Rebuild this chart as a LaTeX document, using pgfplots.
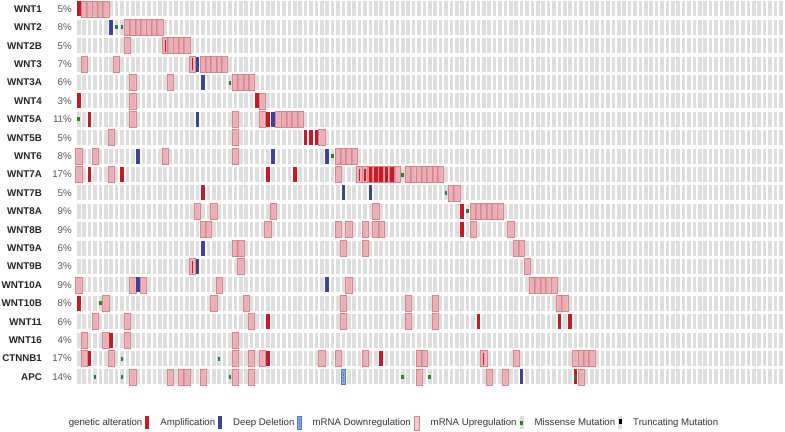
\documentclass[border=0pt]{standalone}
\usepackage{pgfplots}
\pgfplotsset{compat=1.18}
\usepackage{fontspec}
\setmainfont{Liberation Sans}

\definecolor{cellgray}{RGB}{222,222,222}
\definecolor{ampred}{RGB}{200,26,38}
\definecolor{delblue}{RGB}{58,68,152}
\definecolor{uppink}{RGB}{232,158,166}
\definecolor{upedge}{RGB}{222,130,142}
\definecolor{downfill}{RGB}{140,176,222}
\definecolor{downedge}{RGB}{80,120,190}
\definecolor{misgreen}{RGB}{46,125,50}
\definecolor{genetext}{RGB}{35,35,35}
\definecolor{pcttext}{RGB}{85,85,85}
\definecolor{legtext}{RGB}{50,50,50}

% cell glyphs (sizes in bp, picture is 785x432 bp)
\pgfdeclareplotmark{cell}{\pgfpathrectangle{\pgfpoint{-1.75bp}{-7.5bp}}{\pgfpoint{3.5bp}{15bp}}\pgfusepath{fill}}
\pgfdeclareplotmark{thin}{\pgfpathrectangle{\pgfpoint{-0.6bp}{-6bp}}{\pgfpoint{1.2bp}{12bp}}\pgfusepath{fill}}
\pgfdeclareplotmark{up}{\pgfpathrectangle{\pgfpoint{-3.1bp}{-8bp}}{\pgfpoint{6.2bp}{16bp}}\pgfusepath{fill,stroke}}
\pgfdeclareplotmark{mis}{\pgfpathrectangle{\pgfpoint{-1.3bp}{-2bp}}{\pgfpoint{2.6bp}{4bp}}\pgfusepath{fill}}
\pgfdeclareplotmark{down}{%
  \pgfpathrectangle{\pgfpoint{-1.9bp}{-7.5bp}}{\pgfpoint{3.8bp}{15bp}}\pgfusepath{fill,stroke}%
  \pgfsetdash{{1.5bp}{1.5bp}}{0bp}%
  \pgfpathmoveto{\pgfpoint{0bp}{-5bp}}\pgfpathlineto{\pgfpoint{0bp}{5bp}}\pgfusepath{stroke}}
% legend glyphs
\pgfdeclareplotmark{legbar}{\pgfpathrectangle{\pgfpoint{-2bp}{-6.5bp}}{\pgfpoint{4bp}{13bp}}\pgfusepath{fill}}
\pgfdeclareplotmark{legup}{\pgfpathrectangle{\pgfpoint{-2.5bp}{-7bp}}{\pgfpoint{5bp}{14bp}}\pgfusepath{fill,stroke}}
\pgfdeclareplotmark{legdown}{%
  \pgfpathrectangle{\pgfpoint{-1.8bp}{-6.5bp}}{\pgfpoint{3.6bp}{13bp}}\pgfusepath{fill,stroke}%
  \pgfsetdash{{1.5bp}{1.5bp}}{0bp}%
  \pgfpathmoveto{\pgfpoint{0bp}{-4bp}}\pgfpathlineto{\pgfpoint{0bp}{4bp}}\pgfusepath{stroke}}
\pgfdeclareplotmark{legmis}{%
  \pgfsetfillcolor{cellgray}\pgfpathrectangle{\pgfpoint{-2bp}{-6.5bp}}{\pgfpoint{4bp}{13bp}}\pgfusepath{fill}%
  \pgfsetfillcolor{misgreen}\pgfpathrectangle{\pgfpoint{-1.3bp}{-2bp}}{\pgfpoint{2.6bp}{4bp}}\pgfusepath{fill}}
\pgfdeclareplotmark{legtrunc}{%
  \pgfsetfillcolor{cellgray}\pgfpathrectangle{\pgfpoint{-2bp}{-6.5bp}}{\pgfpoint{4bp}{13bp}}\pgfusepath{fill}%
  \pgfsetfillcolor{black}\pgfpathrectangle{\pgfpoint{-1.3bp}{-1bp}}{\pgfpoint{2.6bp}{5bp}}\pgfusepath{fill}}

\newcommand{\lab}[2]{\makebox[42bp][r]{\bfseries\color{genetext}#1}\makebox[30bp][r]{\color{pcttext}#2\%}}

\begin{document}
\begin{tikzpicture}
\begin{axis}[
  at={(76.05bp,45.8bp)}, anchor=south west,
  x=5.4bp, y=18.4bp, y dir=reverse,
  xmin=-0.5, xmax=130.5, ymin=-0.5, ymax=20.5,
  set layers, clip=false,
  axis line style={draw=none}, tick style={draw=none}, major tick length=0pt,
  xtick={-0.5,0.5,...,130.5}, xticklabel={\mbox{}},
  xmajorgrids, major grid style={white, line width=1.9bp},
  ytick={0,...,20},
  yticklabels={\lab{WNT1}{5},\lab{WNT2}{8},\lab{WNT2B}{5},\lab{WNT3}{7},
    \lab{WNT3A}{6},\lab{WNT4}{3},\lab{WNT5A}{11},\lab{WNT5B}{5},\lab{WNT6}{8},
    \lab{WNT7A}{17},\lab{WNT7B}{5},\lab{WNT8A}{9},\lab{WNT8B}{9},\lab{WNT9A}{6},
    \lab{WNT9B}{3},\lab{WNT10A}{9},\lab{WNT10B}{8},\lab{WNT11}{6},\lab{WNT16}{4},
    \lab{CTNNB1}{17},\lab{APC}{14}},
  yticklabel style={anchor=east, inner sep=0pt, xshift=-4bp,
    font=\fontsize{9.8}{11}\selectfont},
  legend columns=-1,
  legend cell align=left,
  legend image code/.code={\draw[#1] plot[only marks] coordinates {(0bp,0bp)};},
  legend style={at={(-0.0261,-0.0952)}, anchor=west, draw=none, fill=none,
    inner sep=0pt, nodes={inner sep=0pt}, text=legtext,
    font=\fontsize{9.7}{11}\selectfont,
    /tikz/every odd column/.append style={column sep=11bp},
    /tikz/every even column/.append style={column sep=3bp}},
]
% gray sample cells, one strip per gene
\pgfplotsinvokeforeach{0,...,20}{
  \addplot[on layer=axis background, forget plot, draw=cellgray, line width=15bp]
    coordinates {(-0.5,#1) (130.5,#1)};
}
% mRNA upregulation
\addplot[only marks, forget plot, mark=up,
  mark options={fill=uppink, fill opacity=0.7, draw=upedge, line width=0.6bp}]
  coordinates {
  (1,0)(2,0)(3,0)(4,0)(5,0)
  (9,1)(10,1)(11,1)(12,1)(13,1)(14,1)(15,1)
  (9,2)(16,2)(17,2)(18,2)(19,2)(20,2)
  (1,3)(7,3)(21,3)(23,3)(24,3)(25,3)(26,3)(27,3)
  (10,4)(17,4)(29,4)(30,4)(31,4)(32,4)
  (10,5)(34,5)
  (10,6)(29,6)(34,6)(37,6)(38,6)(39,6)(40,6)(41,6)
  (6,7)(29,7)(45,7)
  (0,8)(3,8)(16,8)(29,8)(48,8)(49,8)(50,8)(51,8)
  (0,9)(6,9)(48,9)(52,9)(53,9)(54,9)(55,9)(56,9)(57,9)(58,9)(59,9)
  (61,9)(62,9)(63,9)(64,9)(65,9)(66,9)(67,9)
  (69,10)(70,10)
  (22,11)(25,11)(36,11)(55,11)(73,11)(74,11)(75,11)(76,11)(77,11)(78,11)
  (23,12)(24,12)(35,12)(48,12)(50,12)(53,12)(55,12)(56,12)(73,12)(80,12)
  (29,13)(30,13)(49,13)(53,13)(81,13)(82,13)
  (21,14)(30,14)(83,14)
  (0,15)(10,15)(12,15)(26,15)(50,15)(84,15)(85,15)(86,15)(87,15)(88,15)
  (5,16)(25,16)(31,16)(49,16)(61,16)(66,16)(89,16)(90,16)
  (3,17)(9,17)(32,17)(49,17)(61,17)(66,17)
  (1,18)(5,18)(9,18)(29,18)
  (1,19)(6,19)(29,19)(32,19)(34,19)(45,19)(48,19)(53,19)(63,19)(64,19)(75,19)(81,19)
  (92,19)(93,19)(94,19)(95,19)
  (10,20)(17,20)(19,20)(20,20)(23,20)(29,20)(32,20)(63,20)(76,20)(79,20)(93,20)
  };
% amplification
\addplot[only marks, forget plot, mark=cell, mark options={fill=ampred}]
  coordinates {
  (0,0) (0,5)(33,5) (2,6)(35,6) (42,7)(43,7)(44,7)
  (2,9)(8,9)(35,9)(40,9)(54,9)(55,9)(56,9)(57,9)(58,9)
  (23,10) (71,11) (71,12) (0,16) (35,17)(74,17)(89,17)(91,17)
  (6,18) (2,19)(35,19)(56,19) (92,20)
  };
% amplification inside upregulated cells
\addplot[only marks, forget plot, mark=thin, mark options={fill=ampred}]
  coordinates {(16,2) (21,3) (52,9)(53,9) (21,14) (75,19)};
% deep deletion
\addplot[only marks, forget plot, mark=cell, mark options={fill=delblue}]
  coordinates {
  (6,1) (22,3) (23,4) (22,6)(36,6) (11,8)(36,8)(46,8) (49,10)(54,10)
  (23,13) (22,14) (11,15)(46,15) (82,20)
  };
% mRNA downregulation
\addplot[only marks, forget plot, mark=down,
  mark options={fill=downfill, draw=downedge, line width=0.5bp}]
  coordinates {(49,20)};
% missense mutation
\addplot[only marks, forget plot, mark=mis, mark options={fill=misgreen}]
  coordinates {
  (7,1)(8,1) (28,4) (0,6) (47,8) (60,9) (68,10) (72,11) (4,16)
  (8,19)(26,19) (3,20)(8,20)(28,20)(60,20)(65,20)(92,20)
  };

\addlegendimage{empty legend}\addlegendentry{genetic alteration}
\addlegendimage{mark=legbar, mark options={fill=ampred}}\addlegendentry{Amplification}
\addlegendimage{mark=legbar, mark options={fill=delblue}}\addlegendentry{Deep Deletion}
\addlegendimage{mark=legdown, mark options={fill=downfill, draw=downedge, line width=0.5bp}}\addlegendentry{mRNA Downregulation}
\addlegendimage{mark=legup, mark options={fill=uppink!55!white, draw=upedge, line width=0.9bp}}\addlegendentry{mRNA Upregulation}
\addlegendimage{mark=legmis}\addlegendentry{Missense Mutation}
\addlegendimage{mark=legtrunc}\addlegendentry{Truncating Mutation}
\end{axis}
\pgfresetboundingbox
\useasboundingbox (0,0) rectangle (785bp,432bp);
\end{tikzpicture}
\end{document}
